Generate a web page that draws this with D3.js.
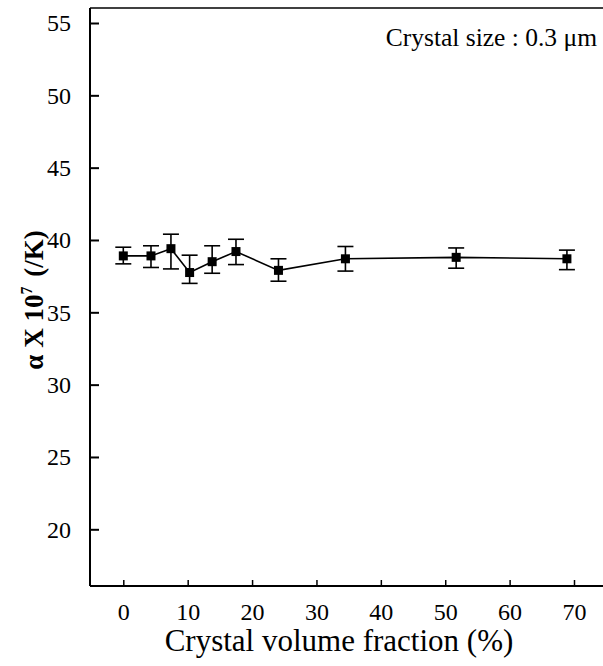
<!DOCTYPE html>
<html><head><meta charset="utf-8">
<script src="https://cdn.jsdelivr.net/npm/d3@7"></script>
<style>body{margin:0;background:#fff}svg{display:block}</style>
</head><body>
<script>
const fraction = [0, 4.3, 7.4, 10.3, 13.8, 17.5, 24.1, 34.5, 51.7, 68.9];
const alpha = [38.9, 38.9, 39.4, 37.75, 38.5, 39.2, 37.9, 38.7, 38.8, 38.7];
const errUp = [0.6, 0.7, 1.0, 1.2, 1.1, 0.85, 0.8, 0.85, 0.65, 0.6];
const errDn = [0.55, 0.8, 1.4, 0.75, 0.8, 0.9, 0.75, 0.85, 0.75, 0.75];
const xTicks = [0, 10, 20, 30, 40, 50, 60, 70];
const yTicks = [20, 25, 30, 35, 40, 45, 50, 55];
const annotation = "Crystal size : 0.3 \u03bcm";
const xLabel = "Crystal volume fraction (%)";

const W = 603, H = 666;
const mLeft = 90, mTop = 8, mBottom = 586;
const svg = d3.select("body").append("svg").attr("width", W).attr("height", H);
const x = d3.scaleLinear().domain([0, 70]).range([123.3, 574]);
const y = d3.scaleLinear().domain([20, 55]).range([529.3, 23]);
const font = "'Liberation Serif', 'Times New Roman', serif";

// frame
svg.append("line").attr("x1", mLeft).attr("x2", mLeft).attr("y1", mTop).attr("y2", mBottom)
  .attr("stroke", "#000").attr("stroke-width", 2);
svg.append("line").attr("x1", mLeft).attr("x2", W).attr("y1", mBottom).attr("y2", mBottom)
  .attr("stroke", "#000").attr("stroke-width", 2);
svg.append("line").attr("x1", mLeft).attr("x2", W).attr("y1", mTop).attr("y2", mTop)
  .attr("stroke", "#000").attr("stroke-width", 1.5);

// y axis
const yAxis = d3.axisLeft(y).tickValues(yTicks).tickSize(-9).tickPadding(19).tickFormat(d3.format("d"));
const gy = svg.append("g").attr("transform", `translate(${mLeft},0)`).call(yAxis);
gy.attr("font-family", null).attr("font-size", null);
gy.select(".domain").remove();
gy.selectAll("line").attr("stroke", "#000").attr("stroke-width", 2);
gy.selectAll("text").style("font-family", font).style("font-size", "24px").attr("fill", "#000").attr("dy", "0.33em");

// x axis
const xAxis = d3.axisBottom(x).tickValues(xTicks).tickSize(-6).tickPadding(17).tickFormat(d3.format("d"));
const gx = svg.append("g").attr("transform", `translate(0,${mBottom})`).call(xAxis);
gx.attr("font-family", null).attr("font-size", null);
gx.select(".domain").remove();
gx.selectAll("line").attr("stroke", "#000").attr("stroke-width", 1.5);
gx.selectAll("text").style("font-family", font).style("font-size", "24px").attr("fill", "#000");

// data
const data = fraction.map((f, i) => ({f, a: alpha[i], hi: alpha[i] + errUp[i], lo: alpha[i] - errDn[i]}));
svg.append("path").datum(data)
  .attr("d", d3.line().x(d => x(d.f)).y(d => y(d.a)))
  .attr("fill", "none").attr("stroke", "#000").attr("stroke-width", 1.6);
const eb = svg.append("g").attr("stroke", "#000").attr("stroke-width", 1.6);
data.forEach(d => {
  eb.append("line").attr("x1", x(d.f)).attr("x2", x(d.f)).attr("y1", y(d.hi)).attr("y2", y(d.lo));
  eb.append("line").attr("x1", x(d.f) - 8).attr("x2", x(d.f) + 8).attr("y1", y(d.hi)).attr("y2", y(d.hi));
  eb.append("line").attr("x1", x(d.f) - 8).attr("x2", x(d.f) + 8).attr("y1", y(d.lo)).attr("y2", y(d.lo));
});
svg.append("g").selectAll("rect").data(data).join("rect")
  .attr("x", d => x(d.f) - 4.5).attr("y", d => y(d.a) - 4.5)
  .attr("width", 9).attr("height", 9).attr("fill", "#000");

// annotation
svg.append("text").attr("x", 597).attr("y", 46).attr("text-anchor", "end")
  .style("font-family", font).style("font-size", "25.5px").attr("fill", "#000").text(annotation);

// x label
svg.append("text").attr("x", 339).attr("y", 651).attr("text-anchor", "middle")
  .style("font-family", font).style("font-size", "31px").attr("fill", "#000").text(xLabel);

// y label
const yl = svg.append("text").attr("transform", "translate(43,300) rotate(-90)")
  .attr("text-anchor", "middle").style("font-family", font).style("font-size", "27px")
  .attr("font-weight", "bold").attr("fill", "#000");
yl.append("tspan").text("\u03b1 X 10");
yl.append("tspan").style("font-size", "16px").attr("dy", -11).text("7");
yl.append("tspan").attr("dy", 11).attr("dx", 3).text(" (/K)");
</script>
</body></html>
